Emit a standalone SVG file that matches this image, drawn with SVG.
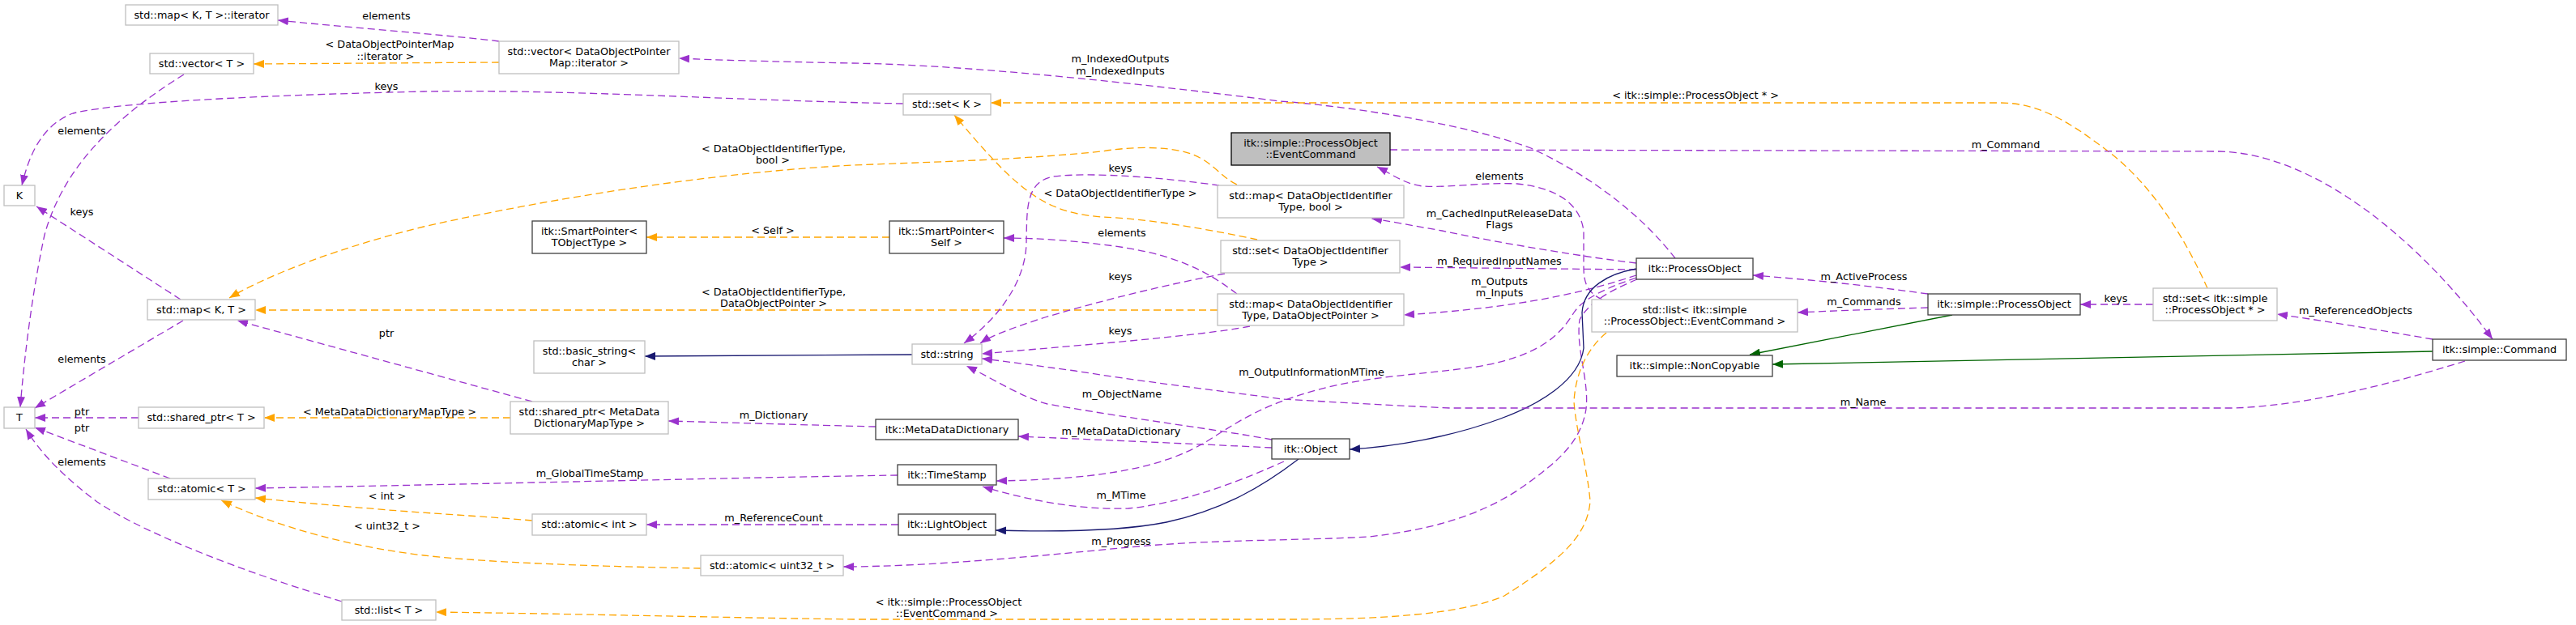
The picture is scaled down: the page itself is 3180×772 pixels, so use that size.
<svg xmlns="http://www.w3.org/2000/svg" width="3180" height="772" viewBox="0 0 3180 772">
<style>
text{font-family:"DejaVu Sans","Liberation Sans",sans-serif;font-size:12.8px;fill:#000;text-anchor:middle}
.n rect{fill:#fff;stroke-width:1.3}
.g rect{stroke:#bfbfbf}
.b rect{stroke:#404040}
.root rect{fill:#bfbfbf;stroke:#000}
#edges path{fill:none;stroke-width:1.3}
#edges path.u{stroke:#9a32cd;stroke-dasharray:9,5;marker-end:url(#ap)}
#edges path.o{stroke:#ffa500;stroke-dasharray:9,5;marker-end:url(#ao)}
#edges path.i{stroke:#191970;marker-end:url(#ab)}
#edges path.p{stroke:#006400;marker-end:url(#ag)}
</style>
<defs>
<marker id="ap" viewBox="0 0 13 10" refX="13" refY="5" markerWidth="13" markerHeight="10" markerUnits="userSpaceOnUse" orient="auto"><path d="M0,0 L13,5 L0,10 z" fill="#9a32cd"/></marker>
<marker id="ao" viewBox="0 0 13 10" refX="13" refY="5" markerWidth="13" markerHeight="10" markerUnits="userSpaceOnUse" orient="auto"><path d="M0,0 L13,5 L0,10 z" fill="#ffa500"/></marker>
<marker id="ab" viewBox="0 0 13 10" refX="13" refY="5" markerWidth="13" markerHeight="10" markerUnits="userSpaceOnUse" orient="auto"><path d="M0,0 L13,5 L0,10 z" fill="#191970"/></marker>
<marker id="ag" viewBox="0 0 13 10" refX="13" refY="5" markerWidth="13" markerHeight="10" markerUnits="userSpaceOnUse" orient="auto"><path d="M0,0 L13,5 L0,10 z" fill="#006400"/></marker>
</defs>
<rect width="3180" height="772" fill="#fff"/>
<g id="edges">
<path class="u" d="M616,51 C560,44 420,33 343,25"/><text x="477" y="24">elements</text>
<path class="o" d="M616,77 L313,79"/><text x="481" y="59">&lt; DataObjectPointerMap</text><text x="476" y="74">::iterator &gt;</text>
<path class="u" d="M227,92 C150,140 80,200 55,290 C40,360 30,440 25,503"/><text x="101" y="166">elements</text>
<path class="u" d="M1115,128 C900,124 700,110 523,113 C350,117 150,125 90,140 C50,155 35,195 27,229"/><text x="477" y="111">keys</text>
<path class="u" d="M223,370 L45,255"/><text x="101" y="266">keys</text>
<path class="u" d="M226,396 L43,504"/><text x="101" y="448">elements</text>
<path class="u" d="M171,516 L43,516"/><text x="101" y="513">ptr</text>
<path class="u" d="M210,591 L43,528"/><text x="101" y="533">ptr</text>
<path class="u" d="M422,743 C300,706 180,660 120,620 C80,590 50,560 32,530"/><text x="101" y="575">elements</text>
<path class="u" d="M657,496 L293,396"/><text x="477" y="416">ptr</text>
<path class="o" d="M630,516 L326,516"/><text x="481" y="513">&lt; MetaDataDictionaryMapType &gt;</text>
<path class="o" d="M1527,228 C1505,218 1495,195 1460,187 C1430,180 1390,182 1360,187 C1250,198 1150,200 1053,204 C900,212 700,240 523,280 C420,305 330,340 283,368"/><text x="955" y="188">&lt; DataObjectIdentifierType,</text><text x="954" y="202">bool &gt;</text>
<path class="o" d="M1503,383 L315,383"/><text x="955" y="365">&lt; DataObjectIdentifierType,</text><text x="955" y="379">DataObjectPointer &gt;</text>
<path class="o" d="M1098,293 L798,293"/><text x="954" y="289">&lt; Self &gt;</text>
<path class="o" d="M1552,296 C1500,285 1420,270 1360,268 C1320,265 1295,255 1270,237 C1240,215 1210,180 1178,142"/><text x="1383" y="243">&lt; DataObjectIdentifierType &gt;</text>
<path class="u" d="M2068,319 C2030,270 1970,220 1890,183 C1800,150 1650,130 1580,125 C1420,105 1200,80 1050,78 C950,76 880,74 838,72"/><text x="1383" y="77">m_IndexedOutputs</text><text x="1383" y="92">m_IndexedInputs</text>
<path class="o" d="M2725,356 C2700,300 2660,230 2600,185 C2560,155 2520,127 2470,127 L1223,127"/><text x="2093" y="122">&lt; itk::simple::ProcessObject * &gt;</text>
<path class="u" d="M1716,185 L2740,187 C2860,190 2990,300 3077,419"/><text x="2476" y="183">m_Command</text>
<path class="u" d="M1978,370 C1960,362 1955,350 1955,330 L1955,285 C1950,250 1920,232 1873,227 C1830,225 1790,232 1757,230 C1735,228 1718,215 1700,206"/><text x="1851" y="222">elements</text>
<path class="u" d="M1505,229 C1440,220 1350,212 1300,218 C1265,225 1268,260 1267,300 C1266,350 1230,395 1190,424"/><text x="1383" y="212">keys</text>
<path class="u" d="M1512,338 C1420,355 1330,380 1290,392 C1250,405 1225,414 1210,424"/><text x="1383" y="346">keys</text>
<path class="u" d="M1543,403 C1480,415 1350,425 1212,437"/><text x="1383" y="413">keys</text>
<path class="u" d="M1527,363 C1490,335 1450,312 1360,302 C1320,297 1280,294 1239,294"/><text x="1385" y="292">elements</text>
<path class="u" d="M2020,325 C1960,318 1850,300 1780,285 C1740,278 1715,273 1693,270"/><text x="1851" y="268">m_CachedInputReleaseData</text><text x="1851" y="282">Flags</text>
<path class="u" d="M2020,333 L1728,330"/><text x="1851" y="327">m_RequiredInputNames</text>
<path class="u" d="M2020,340 C1960,360 1880,380 1733,389"/><text x="1851" y="352">m_Outputs</text><text x="1851" y="366">m_Inputs</text>
<path class="u" d="M2020,343 C1985,355 1955,368 1943,386 C1925,415 1900,440 1823,453 C1760,462 1700,464 1640,478 C1560,498 1530,520 1490,545 C1440,575 1370,592 1230,594"/><text x="1619" y="464">m_OutputInformationMTime</text>
<path class="u" d="M2021,345 C1985,360 1960,375 1950,395 C1945,430 1962,470 1958,505 C1952,545 1925,570 1873,606 C1820,640 1760,655 1690,663 C1600,668 1500,666 1393,676 C1300,685 1150,700 1041,700"/><text x="1384" y="673">m_Progress</text>
<path class="i" d="M2020,332 C1985,338 1955,355 1953,386 L1955,430 C1950,470 1900,500 1850,518 C1790,540 1720,552 1666,555"/>
<path class="o" d="M1983,411 C1960,430 1945,460 1943,496 C1945,530 1960,580 1963,619 C1960,660 1930,690 1857,736 C1800,760 1700,765 1590,765 L1053,765 C900,763 700,758 538,756"/><text x="1171" y="748">&lt; itk::simple::ProcessObject</text><text x="1169" y="762">::EventCommand &gt;</text>
<path class="u" d="M1570,543 C1500,530 1400,518 1293,499 C1260,490 1230,470 1193,452"/><text x="1385" y="491">m_ObjectName</text>
<path class="u" d="M1570,553 C1470,548 1350,543 1257,539"/><text x="1384" y="537">m_MetaDataDictionary</text>
<path class="u" d="M1585,570 C1540,590 1470,620 1393,628 C1330,630 1270,618 1213,601"/><text x="1384" y="616">m_MTime</text>
<path class="i" d="M1603,567 C1560,600 1510,630 1440,645 C1380,657 1300,657 1229,655"/>
<path class="u" d="M1109,648 L798,648"/><text x="955" y="644">m_ReferenceCount</text>
<path class="u" d="M1108,587 C900,590 600,598 315,603"/><text x="728" y="589">m_GlobalTimeStamp</text>
<path class="u" d="M1081,527 C1000,525 900,522 825,520"/><text x="955" y="517">m_Dictionary</text>
<path class="i" d="M1126,438 L796,440"/>
<path class="o" d="M657,643 C600,638 530,634 480,630 C420,625 360,620 315,615"/><text x="478" y="617">&lt; int &gt;</text>
<path class="o" d="M865,702 C750,700 600,695 523,686 C430,675 340,650 273,618"/><text x="478" y="654">&lt; uint32_t &gt;</text>
<path class="u" d="M2380,363 C2300,352 2230,345 2164,340"/><text x="2301" y="346">m_ActiveProcess</text>
<path class="u" d="M2380,380 C2320,382 2260,384 2219,386"/><text x="2301" y="377">m_Commands</text>
<path class="u" d="M2658,376 L2568,376"/><text x="2612" y="373">keys</text>
<path class="u" d="M3003,419 C2950,410 2880,398 2811,388"/><text x="2908" y="388">m_ReferencedObjects</text>
<path class="p" d="M3003,434 L2188,450"/>
<path class="p" d="M2410,389 L2160,438"/>
<path class="u" d="M3043,446 C2950,475 2850,500 2760,504 L1790,504 C1700,500 1620,495 1583,493 C1500,482 1400,470 1327,458 C1280,452 1240,446 1212,443"/><text x="2300" y="501">m_Name</text>
</g>
<g id="n_iter" class="n g"><rect x="155" y="6" width="188" height="25"/><text x="249" y="23">std::map&lt; K, T &gt;::iterator</text></g>
<g id="n_vecT" class="n g"><rect x="185" y="66" width="128" height="25"/><text x="249" y="83">std::vector&lt; T &gt;</text></g>
<g id="n_K" class="n g"><rect x="5" y="229" width="38" height="25"/><text x="24" y="246">K</text></g>
<g id="n_mapKT" class="n g"><rect x="182" y="370" width="133" height="25"/><text x="248.5" y="387">std::map&lt; K, T &gt;</text></g>
<g id="n_T" class="n g"><rect x="5" y="503" width="38" height="26"/><text x="24" y="520">T</text></g>
<g id="n_spT" class="n g"><rect x="171" y="503" width="155" height="26"/><text x="248.5" y="520">std::shared_ptr&lt; T &gt;</text></g>
<g id="n_atT" class="n g"><rect x="183" y="591" width="132" height="26"/><text x="249" y="608">std::atomic&lt; T &gt;</text></g>
<g id="n_listT" class="n g"><rect x="422" y="741" width="116" height="25"/><text x="480" y="758">std::list&lt; T &gt;</text></g>
<g id="n_vecDOPM" class="n g"><rect x="616" y="51" width="222" height="40"/><text x="727" y="67.5">std::vector&lt; DataObjectPointer</text><text x="727" y="81.5">Map::iterator &gt;</text></g>
<g id="n_spTOT" class="n b"><rect x="657" y="273" width="141" height="40"/><text x="727.5" y="289.5">itk::SmartPointer&lt;</text><text x="727.5" y="303.5">TObjectType &gt;</text></g>
<g id="n_bstr" class="n g"><rect x="659" y="421" width="137" height="40"/><text x="727.5" y="437.5">std::basic_string&lt;</text><text x="727.5" y="451.5">char &gt;</text></g>
<g id="n_spMD" class="n g"><rect x="630" y="496" width="195" height="40"/><text x="727.5" y="512.5">std::shared_ptr&lt; MetaData</text><text x="727.5" y="526.5">DictionaryMapType &gt;</text></g>
<g id="n_atInt" class="n g"><rect x="657" y="635" width="141" height="26"/><text x="727.5" y="652">std::atomic&lt; int &gt;</text></g>
<g id="n_atU32" class="n g"><rect x="865" y="686" width="176" height="25"/><text x="953" y="703">std::atomic&lt; uint32_t &gt;</text></g>
<g id="n_setK" class="n g"><rect x="1115" y="116" width="108" height="26"/><text x="1169" y="133">std::set&lt; K &gt;</text></g>
<g id="n_spSelf" class="n b"><rect x="1098" y="273" width="141" height="40"/><text x="1168.5" y="289.5">itk::SmartPointer&lt;</text><text x="1168.5" y="303.5">Self &gt;</text></g>
<g id="n_str" class="n g"><rect x="1126" y="425" width="86" height="25"/><text x="1169" y="442">std::string</text></g>
<g id="n_mdd" class="n b"><rect x="1081" y="518" width="176" height="25"/><text x="1169" y="535">itk::MetaDataDictionary</text></g>
<g id="n_ts" class="n b"><rect x="1108" y="574" width="122" height="25"/><text x="1169" y="591">itk::TimeStamp</text></g>
<g id="n_lo" class="n b"><rect x="1109" y="635" width="120" height="26"/><text x="1169" y="652">itk::LightObject</text></g>
<g id="n_ec" class="n root"><rect x="1520" y="164" width="196" height="40"/><text x="1618" y="180.5">itk::simple::ProcessObject</text><text x="1618" y="194.5">::EventCommand</text></g>
<g id="n_mapBool" class="n g"><rect x="1503" y="229" width="230" height="40"/><text x="1618" y="245.5">std::map&lt; DataObjectIdentifier</text><text x="1618" y="259.5">Type, bool &gt;</text></g>
<g id="n_setDOIT" class="n g"><rect x="1507" y="297" width="221" height="40"/><text x="1617.5" y="313.5">std::set&lt; DataObjectIdentifier</text><text x="1617.5" y="327.5">Type &gt;</text></g>
<g id="n_mapDOP" class="n g"><rect x="1503" y="363" width="230" height="39"/><text x="1618" y="379.5">std::map&lt; DataObjectIdentifier</text><text x="1618" y="393.5">Type, DataObjectPointer &gt;</text></g>
<g id="n_obj" class="n b"><rect x="1570" y="542" width="96" height="25"/><text x="1618" y="559">itk::Object</text></g>
<g id="n_po" class="n b"><rect x="2020" y="319" width="144" height="26"/><text x="2092" y="336">itk::ProcessObject</text></g>
<g id="n_listEC" class="n g"><rect x="1965" y="370" width="254" height="40"/><text x="2092" y="386.5">std::list&lt; itk::simple</text><text x="2092" y="400.5">::ProcessObject::EventCommand &gt;</text></g>
<g id="n_nc" class="n b"><rect x="1996" y="439" width="192" height="26"/><text x="2092" y="456">itk::simple::NonCopyable</text></g>
<g id="n_spo" class="n b"><rect x="2380" y="363" width="188" height="26"/><text x="2474" y="380">itk::simple::ProcessObject</text></g>
<g id="n_setPO" class="n g"><rect x="2658" y="356" width="153" height="40"/><text x="2734.5" y="372.5">std::set&lt; itk::simple</text><text x="2734.5" y="386.5">::ProcessObject * &gt;</text></g>
<g id="n_cmd" class="n b"><rect x="3003" y="419" width="165" height="26"/><text x="3085.5" y="436">itk::simple::Command</text></g>
</svg>
